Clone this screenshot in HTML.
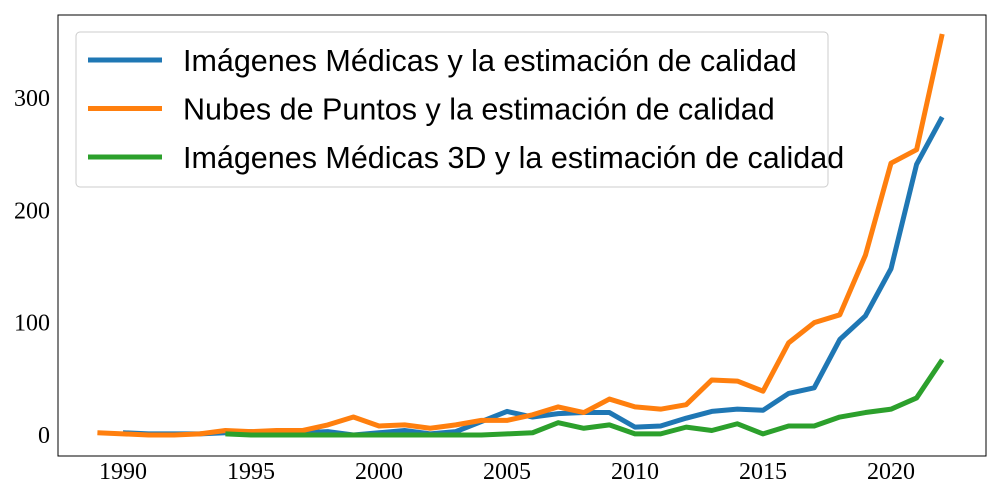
<!DOCTYPE html>
<html><head><meta charset="utf-8">
<style>body{margin:0;background:#fff}svg{display:block}</style></head>
<body>
<svg id="chart" width="1000" height="500" xmlns="http://www.w3.org/2000/svg">
<rect x="58" y="15" width="928" height="441" fill="none" stroke="#000" stroke-width="1"/>
<g id="ticks"></g>
<g id="series"></g>
<g id="legend">
<rect x="76" y="32" width="752" height="155" rx="4" fill="#fff" fill-opacity="0.85" stroke="#ccc"/>
</g>
</svg>
<script>
const blueYears=[1990,1991,1992,1993,1994,1995,1996,1997,1998,1999,2000,2001,2002,2003,2004,2005,2006,2007,2008,2009,2010,2011,2012,2013,2014,2015,2016,2017,2018,2019,2020,2021,2022];
const blueVals=[2,1,1,1,2,3,1,2,3,0,2,4,1,3,12,21,16,19,20,20,7,8,15,21,23,22,37,42,85,106,148,241,283];
const orangeYears=[1989,1990,1991,1992,1993,1994,1995,1996,1997,1998,1999,2000,2001,2002,2003,2004,2005,2006,2007,2008,2009,2010,2011,2012,2013,2014,2015,2016,2017,2018,2019,2020,2021,2022];
const orangeVals=[2,1,0,0,1,4,3,4,4,9,16,8,9,6,9,13,13,18,25,20,32,25,23,27,49,48,39,82,100,107,160,242,254,357];
const greenYears=[1994,1995,1996,1997,1998,1999,2000,2001,2002,2003,2004,2005,2006,2007,2008,2009,2010,2011,2012,2013,2014,2015,2016,2017,2018,2019,2020,2021,2022];
const greenVals=[1,0,0,0,0,0,0,0,0,0,0,1,2,11,6,9,1,1,7,4,10,1,8,8,16,20,23,33,67];
const xTicks=[1990,1995,2000,2005,2010,2015,2020];
const yTicks=[0,100,200,300];
const seriesNames=["Imágenes Médicas y la estimación de calidad","Nubes de Puntos y la estimación de calidad","Imágenes Médicas 3D y la estimación de calidad"];

const NS="http://www.w3.org/2000/svg";
const X=y=>123+(y-1990)*25.6;
const Y=v=>435-v*1.1233;
function mk(t,a,p){const e=document.createElementNS(NS,t);for(const k in a)e.setAttribute(k,a[k]);p.appendChild(e);return e;}
const tg=document.getElementById('ticks');
xTicks.forEach(t=>{
 const e=mk('text',{x:X(t),y:479,'text-anchor':'middle','font-size':24,'font-family':'Liberation Serif, serif'},tg);
 e.textContent=t;
 
 
});
yTicks.forEach(t=>{
 const e=mk('text',{x:50,y:Y(t)+8,'text-anchor':'end','font-size':24,'font-family':'Liberation Serif, serif'},tg);
 e.textContent=t;
 
 
});
const sg=document.getElementById('series');
const S=[[blueYears,blueVals,'#1f77b4','blue'],[orangeYears,orangeVals,'#ff7f0e','orange'],[greenYears,greenVals,'#2ca02c','green']];
S.forEach(([ys,vs,c,n])=>{
 const p=mk('polyline',{points:ys.map((y,i)=>X(y)+','+Y(vs[i])).join(' '),fill:'none',stroke:c,'stroke-width':5,'stroke-linejoin':'round'},sg);
 
 
});
const lg=document.getElementById('legend');
S.forEach(([ys,vs,c,n],i)=>{
 const yy=60+i*48.5;
 const l=mk('line',{x1:88,x2:162,y1:yy,y2:yy,stroke:c,'stroke-width':5},lg);
 
 
 const t=mk('text',{x:183,y:yy+11,'font-size':30.5,'font-family':'Liberation Sans, sans-serif'},lg);
 t.textContent=seriesNames[i];
 
 
});
</script>
</body></html>
